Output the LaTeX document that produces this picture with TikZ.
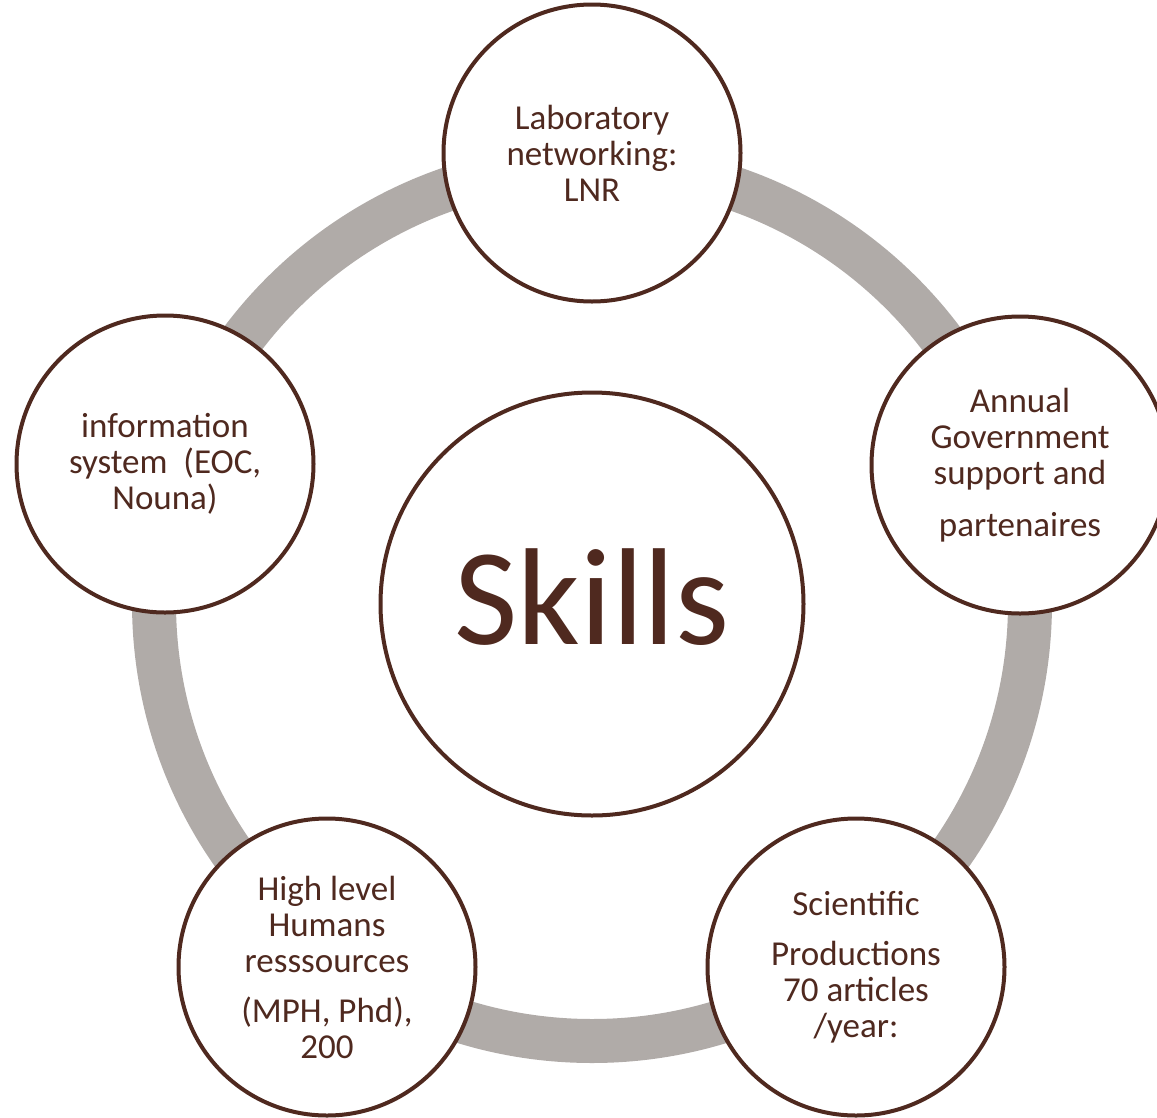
\documentclass[tikz,border=0pt]{standalone}
\usepackage{fontspec}
\setmainfont{Carlito}
\usepackage{tikz}
\usetikzlibrary{shapes.geometric, positioning}
\definecolor{skillbrown}{RGB}{79,41,31}
\definecolor{ringgray}{RGB}{176,171,168}
\tikzstyle{pillar} = [circle, draw = skillbrown, line width = 4pt, fill = white, minimum size = 297pt, inner sep = 0pt, align = center, text = skillbrown, font = \fontsize{35}{36}\selectfont]
\tikzstyle{hub} = [circle, draw = skillbrown, line width = 4pt, fill = white, minimum size = 423pt, inner sep = 0pt, text = skillbrown, text depth = 14pt, font = \fontsize{138}{140}\selectfont]

\begin{document}
\begin{tikzpicture}[x = 1pt, y = -1pt]
    \useasboundingbox (0, 0) rectangle (1157, 1117);
    \clip (0, 0) rectangle (1157, 1117);
    % grey ring behind the circles
    \draw[line width = 44pt, ringgray] (592, 603) circle (438pt);
    \node[hub] (skills) at (592, 604) {Skills};
    \node[pillar] (lab) at (592, 153) {Laboratory\\ networking:\\ LNR};
    \node[pillar] (gov) at (1020, 465) {Annual\\ Government\\ support and\\[16pt] partenaires};
    \node[pillar] (sci) at (856, 967) {Scientific\\[14pt] Productions\\ 70 articles\\ /year:};
    \node[pillar] (hr) at (327, 967) {High level\\ Humans\\ resssources\\[14pt] (MPH, Phd),\\ 200};
    \node[pillar] (info) at (165, 464) {information\\ system~ (EOC,\\ Nouna)};
\end{tikzpicture}
\end{document}
